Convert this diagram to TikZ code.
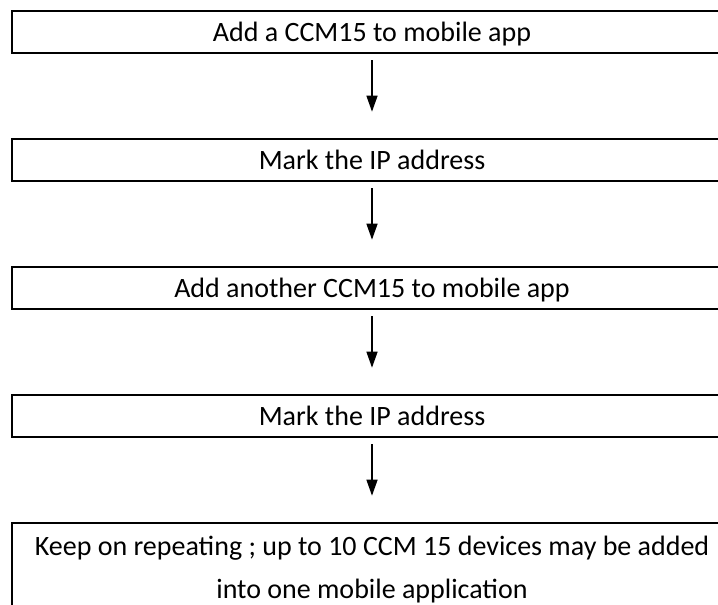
\documentclass[tikz,border=0pt]{standalone}
\usepackage{fontspec}
\setmainfont{Carlito}
\usetikzlibrary{arrows.meta,positioning}

\tikzset{
    stepbox/.style={draw, line width=2.6pt, rectangle, minimum width=720pt,
        minimum height=42pt, inner sep=0pt, align=center,
        font=\fontsize{28}{43}\selectfont},
    onerow/.style={text height=20pt, text depth=2pt},
    flow/.style={line width=1.4pt, -{Triangle[length=16pt,width=11pt]},
        shorten <=6pt, shorten >=26pt}
}

\begin{document}
\begin{tikzpicture}[node distance=83.4pt]
    % page frame
    \useasboundingbox (0,0) rectangle (718pt,-605pt);
    \clip (0,0) rectangle (718pt,-605pt);

    % Steps
    \node[stepbox, onerow] (add1) at (372pt,-32pt) {Add a CCM15 to mobile app};
    \node[stepbox, onerow, below=of add1] (mark1) {Mark the IP address};
    \node[stepbox, onerow, below=of mark1] (add2) {Add another CCM15 to mobile app};
    \node[stepbox, onerow, below=of add2] (mark2) {Mark the IP address};
    \node[stepbox, below=of mark2, minimum height=100pt, text depth=11pt]
        (repeat) {Keep on repeating ; up to 10 CCM 15 devices may be added\\into one mobile application};

    % Arrows
    \draw[flow] (add1) -- (mark1);
    \draw[flow] (mark1) -- (add2);
    \draw[flow] (add2) -- (mark2);
    \draw[flow] (mark2) -- (repeat);
\end{tikzpicture}
\end{document}
